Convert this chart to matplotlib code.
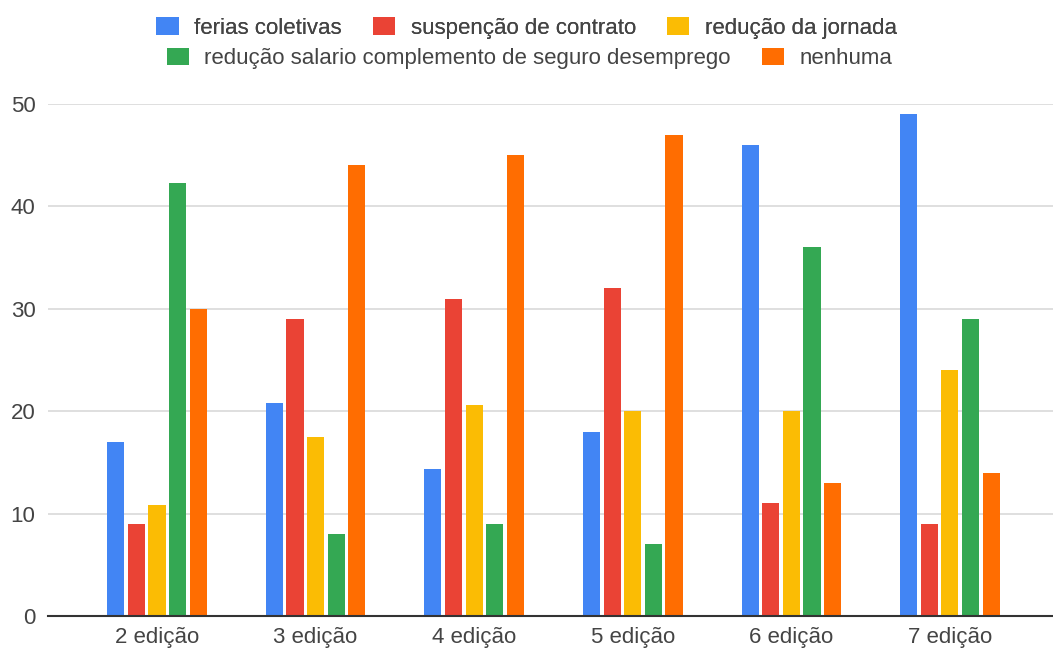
import numpy as np
import matplotlib
matplotlib.use("Agg")
import matplotlib.pyplot as plt
from matplotlib.patches import Patch

plt.rcParams['font.family'] = ['Liberation Sans', 'DejaVu Sans']

# valeurs
edicoes = ['2 edição', '3 edição', '4 edição', '5 edição', '6 edição', '7 edição']
series = ['ferias coletivas', 'suspenção de contrato', 'redução da jornada',
          'redução salario complemento de seguro desemprego', 'nenhuma']
ferias = [17, 20.8, 14.4, 18, 46, 49]
suspencao = [9, 29, 31, 32, 11, 9]
reducao_jornada = [10.8, 17.5, 20.6, 20, 20, 24]
reducao_salario = [42.3, 8, 9, 7, 36, 29]
nenhuma = [30, 44, 45, 47, 13, 14]

cores = ['#4285F4', '#EA4335', '#FBBC04', '#34A853', '#FF6D01']
valores = [ferias, suspencao, reducao_jornada, reducao_salario, nenhuma]

fig = plt.figure(figsize=(10.53, 6.48), dpi=100)
ax = fig.add_axes([0.0456, 0.0494, 0.9544, 0.7901])

x = np.arange(len(edicoes))
pas = 0.13
larg = 0.108
for i, (vals, c) in enumerate(zip(valores, cores)):
    ax.bar(x + (i - 2) * pas, vals, width=larg, color=c, zorder=3)

ax.set_xlim(-0.687, 5.65)
ax.set_ylim(0, 50)
ax.set_yticks([0, 10, 20, 30, 40, 50])
ax.set_xticks(x)
ax.set_xticklabels(edicoes)
ax.grid(axis='y', color='#d9d9d9', linewidth=1.2, zorder=0)
for s in ['top', 'right', 'left']:
    ax.spines[s].set_visible(False)
ax.spines['bottom'].set_color('#333333')
ax.spines['bottom'].set_linewidth(1.5)
ax.spines['bottom'].set_zorder(4)
ax.tick_params(axis='both', length=0, labelsize=16, colors='#444444')
ax.tick_params(axis='y', pad=9)
ax.tick_params(axis='x', pad=8)

# légende en deux lignes
h = [Patch(facecolor=c, edgecolor='none') for c in cores]
kw = dict(frameon=False, fontsize=16, handlelength=1.0, handleheight=0.85,
          handletextpad=0.7, columnspacing=1.4, labelcolor='#444444')
leg1 = fig.legend(h[:3], series[:3], loc='center', bbox_to_anchor=(0.5, 0.957), ncol=3, **kw)
leg2 = fig.legend(h[3:], series[3:], loc='center', bbox_to_anchor=(0.503, 0.910), ncol=2, **kw)
fig.add_artist(leg1)

fig.savefig('out.png', dpi=100)
